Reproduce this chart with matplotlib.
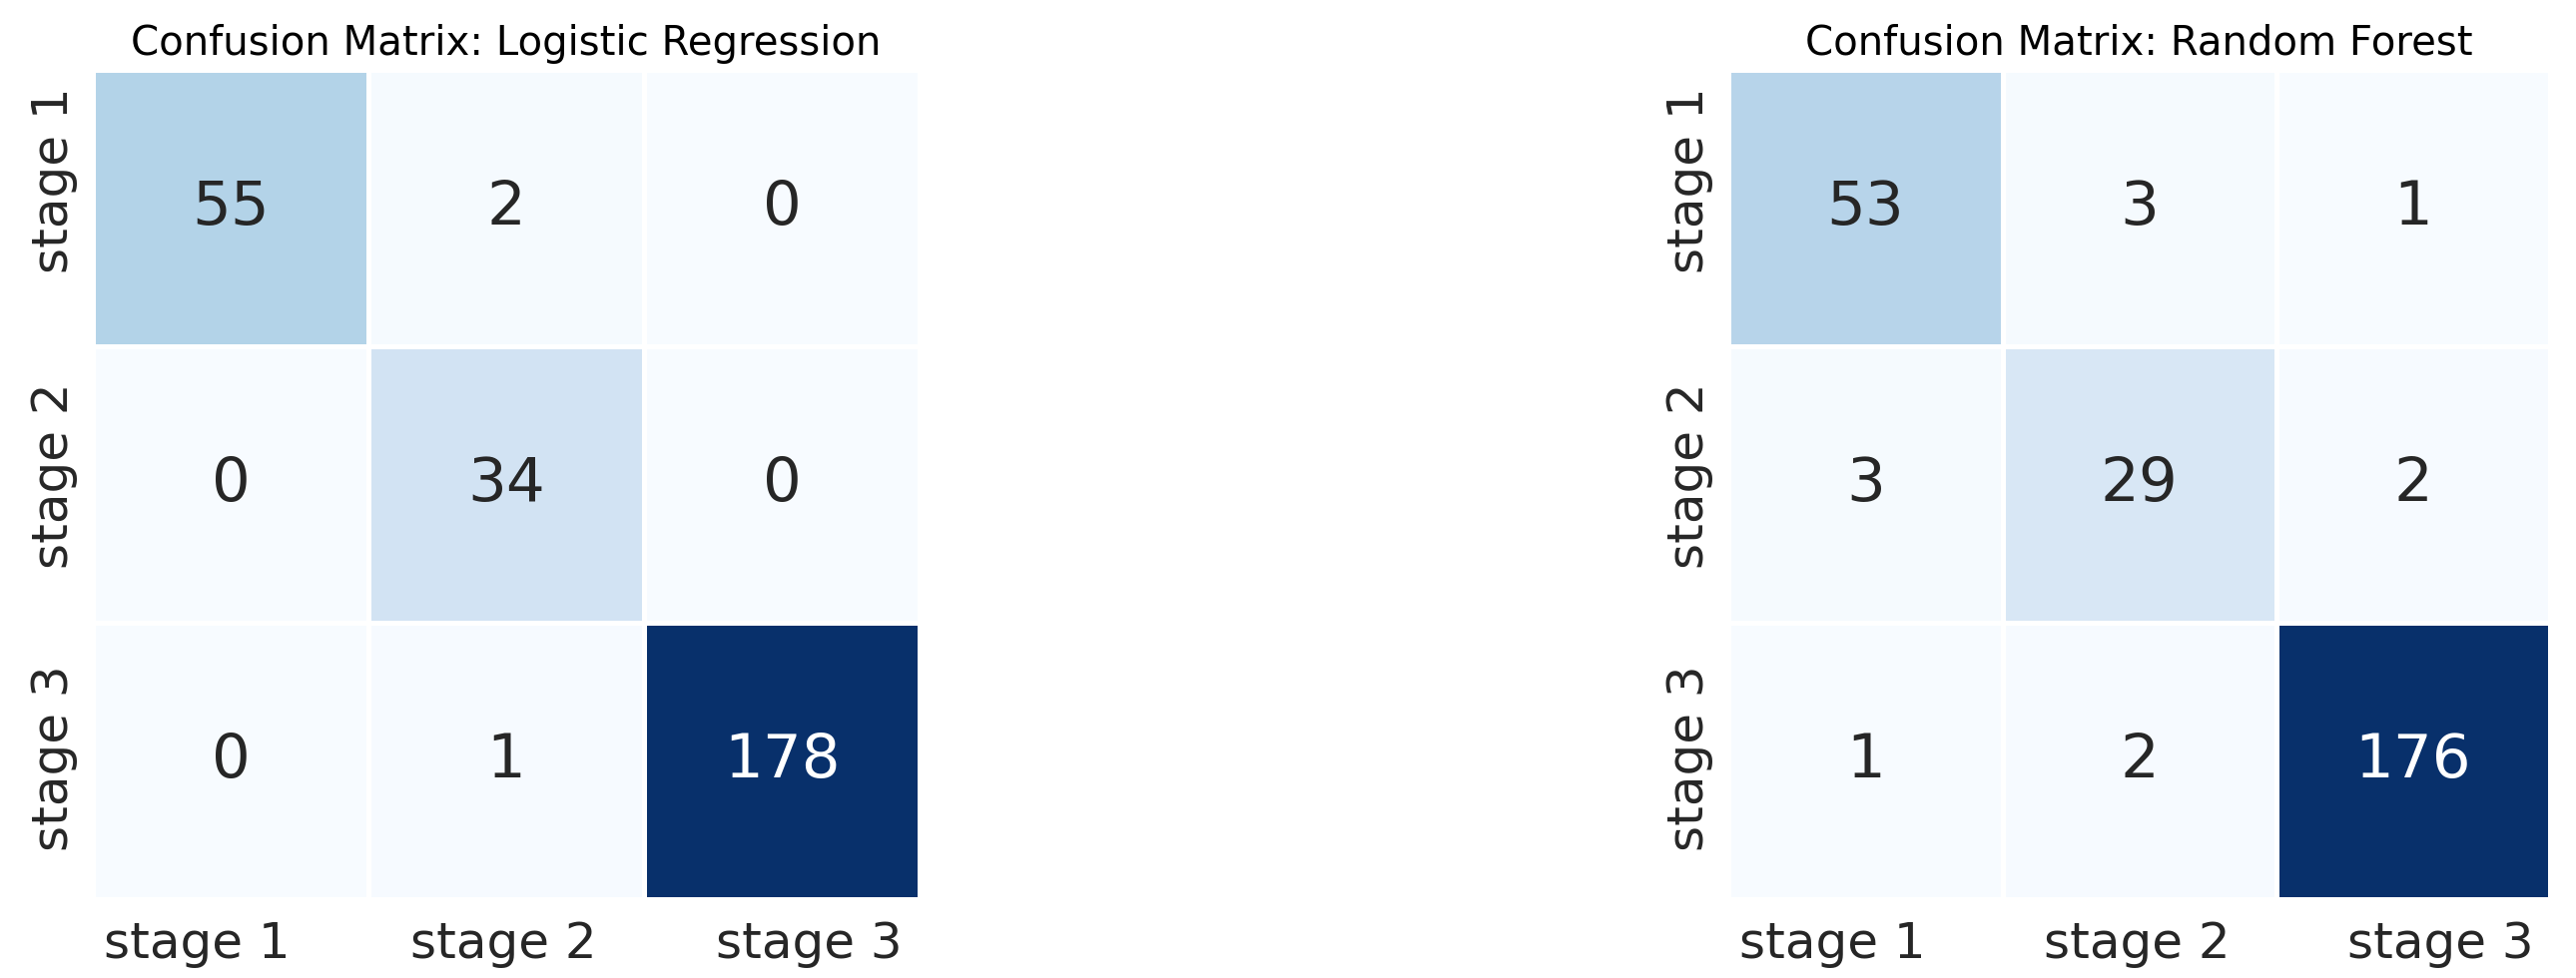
import numpy as np
import matplotlib
matplotlib.use("Agg")
import matplotlib.pyplot as plt
import seaborn as sns

# Donnees des matrices de confusion
labels = ["stage 1", "stage 2", "stage 3"]
cm_logreg = [[55, 2, 0],
             [0, 34, 0],
             [0, 1, 178]]
cm_forest = [[53, 3, 1],
             [3, 29, 2],
             [1, 2, 176]]
titles = ["Confusion Matrix: Logistic Regression", "Confusion Matrix: Random Forest"]

# Position des etiquettes (un peu ecartees du centre des cases, comme sur l'original)
xtick_pos = [0.38, 1.49, 2.60]
ytick_pos = [0.40, 1.47, 2.49]

plt.rcParams['font.family'] = ['DejaVu Sans']
plt.rcParams['text.color'] = '#262626'

fig = plt.figure(figsize=(25.8, 9.8), dpi=100)
ax1 = fig.add_axes([0.036, 0.0806, 0.321, 0.848])
ax2 = fig.add_axes([0.671, 0.0806, 0.319, 0.848])

for ax, cm, title in zip([ax1, ax2], [cm_logreg, cm_forest], titles):
    sns.heatmap(np.array(cm), annot=True, fmt='d', cmap='Blues', cbar=False,
                linewidths=2.5, linecolor='white',
                xticklabels=labels, yticklabels=labels,
                annot_kws={'size': 44}, ax=ax)
    ax.set_title(title, fontsize=29, pad=11, color='black')
    ax.set_xticks(xtick_pos)
    ax.set_xticklabels(labels, rotation=0)
    ax.set_yticks(ytick_pos)
    ax.set_yticklabels(labels, rotation=90, va='center')
    ax.tick_params(axis='x', length=0, labelsize=36, colors='#262626', pad=15)
    ax.tick_params(axis='y', length=0, labelsize=36, colors='#262626', pad=11)

fig.savefig("out.png", dpi=100)
